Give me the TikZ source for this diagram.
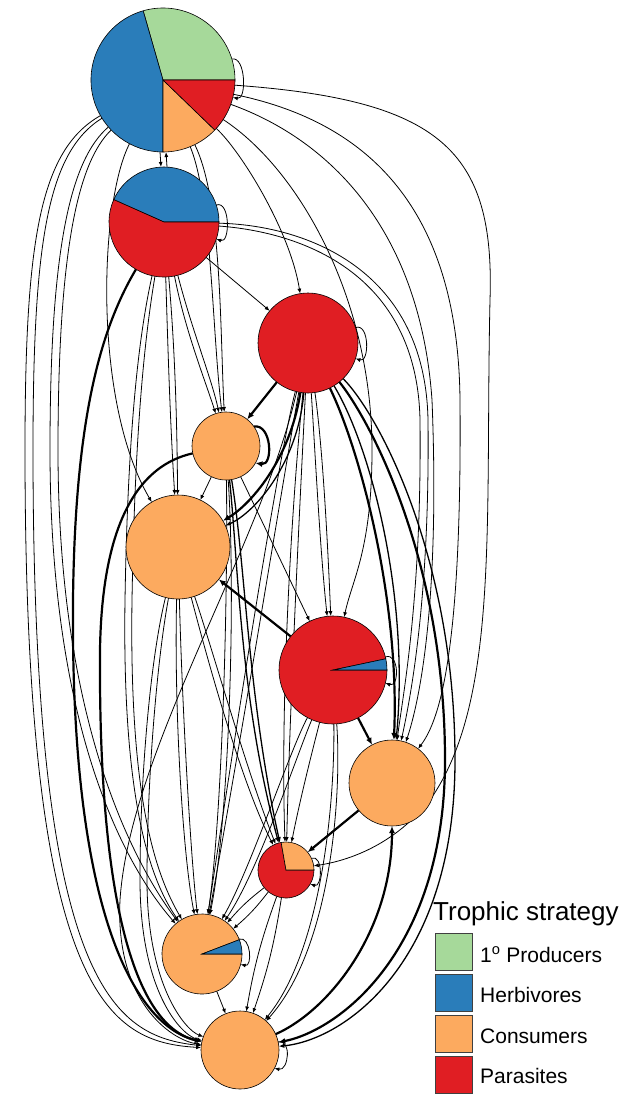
\documentclass[tikz,border=0pt]{standalone}
\usepackage{fontspec}
\setmainfont{Liberation Sans}
\usetikzlibrary{arrows.meta}
\definecolor{cgreen}{RGB}{166,217,154}
\definecolor{cblue}{RGB}{42,125,186}
\definecolor{corange}{RGB}{252,170,95}
\definecolor{cred}{RGB}{224,30,35}
\newcommand\pieslice[5]{\filldraw[fill=#5,draw=black,line width=0.6pt] (#1.center) -- ++(#3:#2) arc[start angle=#3,end angle=#4,radius=#2] -- cycle;}
\newcommand\piefull[3]{\filldraw[fill=#3,draw=black,line width=0.6pt] (#1.center) circle[radius=#2];}
\begin{document}
\begin{tikzpicture}[x=1pt,y=1pt,
  thinE/.style={line width=0.8pt,-{Latex[length=5pt,width=4pt]}},
  midE/.style={line width=1.3pt,-{Latex[length=5.5pt,width=4.5pt]}},
  thickE/.style={line width=2.2pt,-{Latex[length=7pt,width=6pt]}},
  nd/.style={circle,inner sep=0pt,outer sep=0pt,draw=none},
  lbl/.style={anchor=base west,inner sep=0pt,font=\fontsize{21}{24}\selectfont},
  legbox/.style={draw=black!75,line width=1pt,minimum size=37pt,inner sep=0pt,anchor=north west}]
\useasboundingbox (0,0) rectangle (630,-1094);
% nodes
\node[nd,minimum size=144pt] (N1) at (163,-80) {};
\node[nd,minimum size=110pt] (N2) at (164,-222) {};
\node[nd,minimum size=100pt] (N3) at (308,-343) {};
\node[nd,minimum size=68pt] (N4) at (226,-446) {};
\node[nd,minimum size=104pt] (N5) at (178,-547) {};
\node[nd,minimum size=108pt] (N6) at (333,-670) {};
\node[nd,minimum size=86pt] (N7) at (392,-783) {};
\node[nd,minimum size=56pt] (N8) at (286,-870) {};
\node[nd,minimum size=80pt] (N9) at (202,-954) {};
\node[nd,minimum size=78pt] (N10) at (240,-1050) {};
% N1 edges
\draw[thinE] (N1.17) .. controls +(14,3) and +(14,-3) .. (N1.-14);
\draw[thinE] ([xshift=-3pt]N1.south) -- ([xshift=-3pt]N2.north);
\draw[thinE] ([xshift=3pt]N2.north) -- ([xshift=3pt]N1.south);
\draw[thinE] (N1) .. controls (40,-150) and (25,-240) .. (25,-450) .. controls (25,-1000) and (110,-1042) .. (N10);
\draw[thinE] (N1) .. controls (48,-152) and (33,-240) .. (33,-450) .. controls (33,-990) and (115,-1036) .. (N10);
\draw[thinE] (N1) .. controls (70,-160) and (50,-250) .. (50,-450) .. controls (50,-720) and (120,-860) .. (N9);
\draw[thinE] (N1) .. controls (78,-162) and (58,-250) .. (58,-450) .. controls (58,-712) and (128,-855) .. (N9);
\draw[thinE] (N1) .. controls (100,-200) and (92,-400) .. (N5);
\draw[thinE] (N1) .. controls (240,-150) and (290,-230) .. (N3);
\draw[thinE] (N1) .. controls (212,-200) and (212,-330) .. (N4);
\draw[thinE] (N1) .. controls (222,-200) and (220,-330) .. (N4);
\draw[thinE] (N1) .. controls (300,-170) and (372,-300) .. (372,-450) .. controls (372,-550) and (352,-580) .. (N6);
\draw[thinE] (N1) .. controls (330,-140) and (420,-230) .. (432,-400) .. controls (440,-600) and (420,-700) .. (N7);
\draw[thinE] (N1) .. controls (360,-120) and (458,-200) .. (460,-400) .. controls (462,-650) and (440,-720) .. (N7);
\draw[thinE] (N1) .. controls (440,-100) and (495,-150) .. (490,-300) .. controls (485,-520) and (500,-700) .. (430,-800) .. controls (390,-850) and (340,-862) .. (N8);
% N2 edges
\draw[thinE] (N2.18) .. controls +(14,5) and +(14,-5) .. (N2.-18);
\draw[thinE] (N2) -- (N3);
\draw[thinE] (N2) .. controls (300,-225) and (425,-265) .. (428,-420) .. controls (430,-600) and (410,-700) .. (N7);
\draw[thinE] (N2) .. controls (300,-232) and (417,-272) .. (420,-420) .. controls (422,-600) and (402,-700) .. (N7);
\draw[thickE] (N2) .. controls (100,-330) and (75,-420) .. (73,-600) .. controls (70,-950) and (150,-1030) .. (N10);
\draw[thinE] (N2) .. controls (140,-330) and (128,-420) .. (125,-600) .. controls (122,-800) and (150,-880) .. (N9);
\draw[thinE] (N2) .. controls (146,-330) and (135,-420) .. (132,-600) .. controls (129,-800) and (156,-875) .. (N9);
\draw[thinE] (N2) .. controls (168,-350) and (170,-420) .. (N5);
\draw[thinE] (N2) .. controls (175,-350) and (177,-420) .. (N5);
\draw[thinE] (N2) .. controls (185,-330) and (205,-380) .. (N4);
\draw[thinE] (N2) .. controls (192,-330) and (212,-380) .. (N4);
% N3 edges
\draw[thinE] (N3.18) .. controls +(14,5) and +(14,-5) .. (N3.-18);
\draw[thickE] (N3) -- (N4);
\draw[thickE] (N3) .. controls (290,-460) and (250,-505) .. (N5);
\draw[midE] (N3) .. controls (298,-462) and (256,-512) .. (N5);
\draw[thinE] (N3) .. controls (315,-450) and (320,-550) .. (N6);
\draw[thinE] (N3) .. controls (323,-450) and (328,-550) .. (N6);
\draw[thickE] (N3) .. controls (360,-450) and (400,-600) .. (N7);
\draw[midE] (N3) .. controls (370,-445) and (410,-595) .. (N7);
\draw[thickE] (N3) .. controls (370,-420) and (445,-560) .. (445,-760) .. controls (445,-950) and (340,-1030) .. (N10);
\draw[midE] (N3) .. controls (380,-416) and (455,-560) .. (455,-760) .. controls (455,-962) and (345,-1040) .. (N10);
\draw[thinE] (N3) .. controls (300,-500) and (290,-700) .. (N8);
\draw[thinE] (N3) .. controls (292,-500) and (280,-700) .. (N8);
\draw[thinE] (N3) .. controls (280,-450) and (240,-700) .. (N9);
\draw[thinE] (N3) .. controls (288,-450) and (248,-700) .. (N9);
\draw[thinE] (N3) .. controls (260,-550) and (130,-750) .. (120,-900) .. controls (115,-1000) and (170,-1040) .. (N10);
% N4 edges
\draw[thickE] (N4.35) .. controls +(18,3) and +(18,-3) .. (N4.-30);
\draw[thinE] (N4) -- (N5);
\draw[thinE] (N4) -- (N6);
\draw[thickE] (N4) .. controls (140,-465) and (102,-520) .. (100,-650) .. controls (98,-950) and (150,-1030) .. (N10);
\draw[thinE] (N4) .. controls (228,-600) and (222,-820) .. (N9);
\draw[thinE] (N4) .. controls (236,-600) and (229,-820) .. (N9);
\draw[midE] (N4) .. controls (238,-560) and (240,-700) .. (N8);
\draw[midE] (N4) .. controls (245,-560) and (248,-700) .. (N8);
% N5 edges
\draw[thinE] (N5) .. controls (182,-700) and (190,-850) .. (N9);
\draw[thinE] (N5) .. controls (174,-700) and (182,-850) .. (N9);
\draw[thinE] (N5) .. controls (150,-660) and (140,-780) .. (140,-880) .. controls (140,-990) and (180,-1035) .. (N10);
\draw[thinE] (N5) .. controls (157,-660) and (147,-780) .. (147,-880) .. controls (147,-985) and (185,-1030) .. (N10);
\draw[thinE] (N5) .. controls (205,-650) and (240,-780) .. (N8);
\draw[thinE] (N5) .. controls (212,-648) and (248,-775) .. (N8);
% N6 edges
\draw[thinE] (N6.14) .. controls +(14,5) and +(14,-5) .. (N6.-14);
\draw[thickE] (N6) -- (N5);
\draw[thickE] (N6) -- (N7);
\draw[thinE] (N6) .. controls (335,-800) and (322,-950) .. (N10);
\draw[thinE] (N6) .. controls (342,-800) and (330,-950) .. (N10);
\draw[thinE] (N6) .. controls (310,-760) and (300,-800) .. (N8);
\draw[thinE] (N6) .. controls (290,-750) and (250,-870) .. (N9);
\draw[thinE] (N6) .. controls (298,-752) and (258,-872) .. (N9);
% N7 edges
\draw[thickE] (N7) -- (N8);
\draw[thickE] (N10) .. controls (330,-1010) and (392,-930) .. (N7);
% N8 edges
\draw[thinE] (N8.25) .. controls +(12,4) and +(12,-4) .. (N8.-30);
\draw[thinE] (N8) to[bend left=6] (N9);
\draw[thinE] (N8) to[bend right=6] (N9);
\draw[thinE] (N8) to[bend left=5] (N10);
\draw[thinE] (N8) to[bend right=5] (N10);
% N9, N10
\draw[thinE] (N9.22) .. controls +(12,3) and +(12,-3) .. (N9.-15);
\draw[thinE] (N9) -- (N10);
\draw[thinE] (N10.12) .. controls +(14,3) and +(14,-3) .. (N10.-28);
% pies
\pieslice{N1}{72pt}{0}{106}{cgreen}
\pieslice{N1}{72pt}{106}{270}{cblue}
\pieslice{N1}{72pt}{270}{316}{corange}
\pieslice{N1}{72pt}{316}{360}{cred}
\pieslice{N2}{55pt}{0}{156}{cblue}
\pieslice{N2}{55pt}{156}{360}{cred}
\piefull{N3}{50pt}{cred}
\piefull{N4}{34pt}{corange}
\piefull{N5}{52pt}{corange}
\pieslice{N6}{54pt}{12}{360}{cred}
\pieslice{N6}{54pt}{0}{12}{cblue}
\piefull{N7}{43pt}{corange}
\pieslice{N8}{28pt}{100}{360}{cred}
\pieslice{N8}{28pt}{0}{100}{corange}
\pieslice{N9}{40pt}{21}{360}{corange}
\pieslice{N9}{40pt}{0}{21}{cblue}
\piefull{N10}{39pt}{corange}
% legend
\node[anchor=base west,inner sep=0pt,font=\fontsize{26}{30}\selectfont] (T) at (433,-920) {Trophic strategy};
\node[legbox,fill=cgreen] (Lg) at (435,-933) {};
\node[legbox,fill=cblue] (Lb) at (435,-974) {};
\node[legbox,fill=corange] (Lo) at (435,-1015) {};
\node[legbox,fill=cred] (Lr) at (435,-1056) {};
\node[lbl] (Tg) at (480,-962) {1\textsuperscript{o} Producers};
\node[lbl] (Tb) at (480,-1002) {Herbivores};
\node[lbl] (To) at (480,-1043) {Consumers};
\node[lbl] (Tr) at (480,-1083) {Parasites};
\end{tikzpicture}
\end{document}
